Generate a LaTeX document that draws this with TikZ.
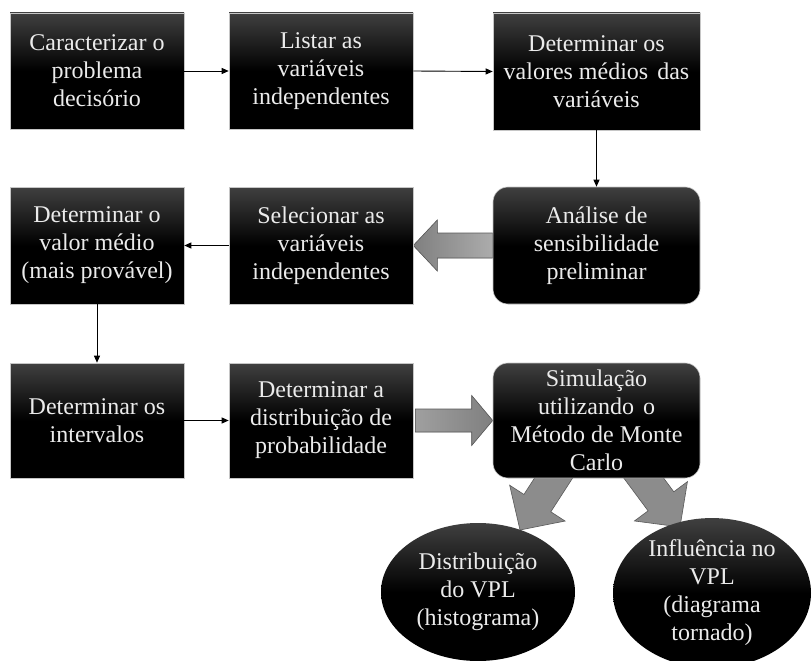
\documentclass[tikz,border=0pt]{standalone}
\usepackage{fontspec}
\setmainfont{Liberation Serif}
\usetikzlibrary{arrows.meta,calc,shapes.geometric}
\pgfdeclarelayer{bg}
\pgfdeclarelayer{background}
\pgfsetlayers{bg,background,main}
% #1 name prefix, #2 tail, #3 tip, #4 shaft half width, #5 head half width, #6 head length, #7 style
\newcommand\blockarr[7]{%
  \coordinate (#1h) at ($(#3)!#6!(#2)$);
  \path[#7] ($(#2)!#4!90:(#3)$) -- ($(#1h)!#4!90:(#3)$) -- ($(#1h)!#5!90:(#3)$) -- (#3)
    -- ($(#1h)!#5!-90:(#3)$) -- ($(#1h)!#4!-90:(#3)$) -- ($(#2)!#4!-90:(#3)$) -- cycle;
}
\tikzset{
  box/.style={rectangle, draw=gray!45, line width=0.6pt,
    top color=gray!50!black, bottom color=black, middle color=black,
    text=white!92!black, align=center, font=\fontsize{24}{28}\selectfont,
    inner sep=0pt},
  rbox/.style={box, rounded corners=15pt},
  ell/.style={ellipse, draw=none, top color=gray!50!black, bottom color=black, middle color=black,
    text=white!92!black, align=center, font=\fontsize{24}{28}\selectfont, inner sep=0pt},
  conn/.style={draw=black, line width=0.9pt, -{Triangle[length=7pt,width=6pt]}},
  blk/.style={draw=black!65, line width=0.6pt, fill=gray!90},
}
\begin{document}
\begin{tikzpicture}[x=1pt,y=-1pt]
\begin{pgfonlayer}{bg}
\fill[white] (0,0) rectangle (812,661);
\end{pgfonlayer}
\useasboundingbox (0,0) rectangle (812,661);
% row 1
\node[box, minimum width=174pt, minimum height=116pt] (b1) at (97,71) {Caracterizar o\\problema\\decisório};
\node[box, minimum width=184pt, minimum height=116pt] (b2) at (321,71) {Listar as\\variáveis\\independentes};
\node[box, minimum width=207pt, minimum height=117pt] (b3) at (596.5,71.5) {Determinar os\\valores médios\hspace{3pt} das\\variáveis};
% row 2
\node[rbox, minimum width=207pt, minimum height=117pt] (an) at (596.5,245.5) {Análise de\\sensibilidade\\preliminar};
\node[box, minimum width=184pt, minimum height=117pt] (sel) at (321,245.5) {Selecionar as\\variáveis\\independentes};
\node[box, minimum width=174pt, minimum height=117pt] (vm) at (97,245.5) {Determinar o\\valor médio\\(mais provável)};
% row 3
\node[box, minimum width=174pt, minimum height=115pt] (iv) at (97,420.5) {Determinar os\\intervalos};
\node[box, minimum width=184pt, minimum height=115pt] (dist) at (321,420.5) {Determinar a\\distribuição de\\probabilidade};
\node[rbox, minimum width=207pt, minimum height=115pt] (sim) at (596.5,420.5) {Simulação\\utilizando\hspace{3pt} o\\Método de Monte\\Carlo};
% ellipses
\node[ell, minimum width=194pt, minimum height=138pt] (e1) at (478,592) {Distribuição\\do VPL\\(histograma)};
\node[ell, minimum width=198pt, minimum height=138pt] (e2) at (712,593) {Influência no\\VPL\\(diagrama\\tornado)};
% thin connectors
\draw[conn] (b1.east) -- (b2.west);
\draw[conn] (b2.east) -- (b3.west);
\draw[conn] (b3.south) -- (an.north);
\draw[conn] (sel.west) -- (vm.east);
\draw[conn] (vm.south) -- (iv.north);
\draw[conn] (iv.east) -- (dist.west);
% block arrows
\coordinate (rt) at ($(dist.east)+(2,0)$);
\coordinate (dlt) at (562,465);
\coordinate (dlp) at (520,530);
\coordinate (drt) at (634,465);
\coordinate (drp) at (680,527);
\begin{pgfonlayer}{background}
\blockarr{a1}{an.west}{sel.east}{12.5pt}{25.5pt}{24pt}{blk, left color=gray!100, right color=gray!65}
\blockarr{a2}{rt}{sim.west}{11.5pt}{25pt}{21pt}{blk, left color=gray!75, right color=gray!100}
\blockarr{a3}{dlt}{dlp}{16pt}{33pt}{32pt}{blk}
\blockarr{a4}{drt}{drp}{16pt}{33pt}{32pt}{blk}
\end{pgfonlayer}
\end{tikzpicture}
\end{document}
